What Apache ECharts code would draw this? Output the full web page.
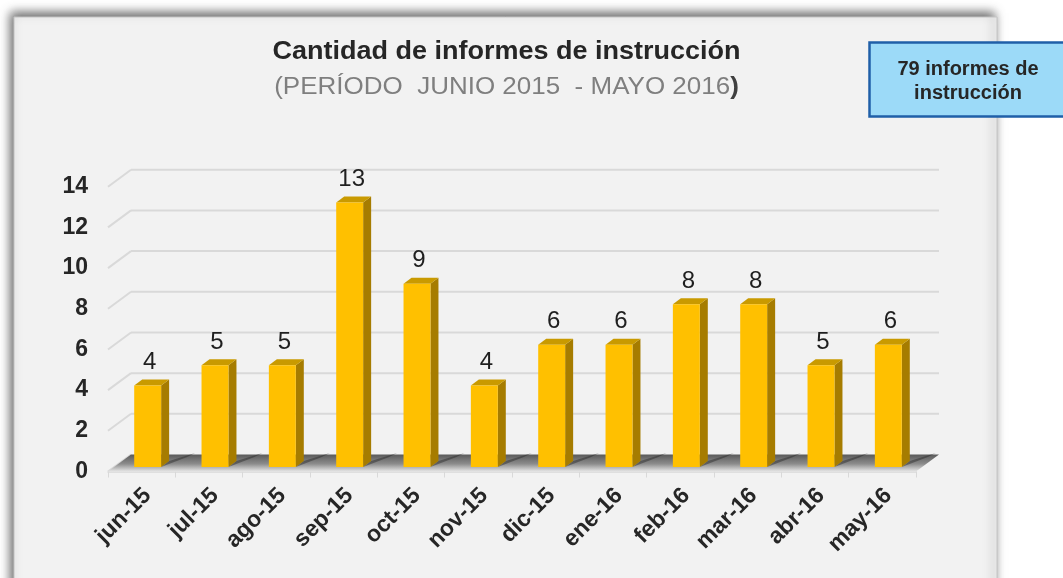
<!DOCTYPE html>
<html>
<head>
<meta charset="utf-8">
<script src="https://cdn.jsdelivr.net/npm/echarts@6/dist/echarts.min.js"></script>
<style>
html, body { margin: 0; padding: 0; background: #ffffff; }
#main { width: 1063px; height: 578px; }
</style>
</head>
<body>
<div id="main"></div>
<script>
// datos
var meses = ['jun-15', 'jul-15', 'ago-15', 'sep-15', 'oct-15', 'nov-15', 'dic-15', 'ene-16', 'feb-16', 'mar-16', 'abr-16', 'may-16'];
var informes = [4, 5, 5, 13, 9, 4, 6, 6, 8, 8, 5, 6];
var yTicks = [0, 2, 4, 6, 8, 10, 12, 14];
var totalTexto = ['79 informes de', 'instrucción'];

var FONT = '"Liberation Sans", Arial, sans-serif';
var DEPTH = [23, -17];   // desplazamiento de la pared del fondo

var myChart = echarts.init(document.getElementById('main'));

// pared del fondo: líneas de división y diagonales
function renderWall(params, api) {
	var cs = params.coordSys;
	var y = api.coord([0, api.value(1)])[1];
	var x0 = cs.x;
	var children = [{
		type: 'line',
		shape: { x1: x0, y1: y, x2: x0 + DEPTH[0], y2: y + DEPTH[1] },
		style: { stroke: '#d9d9d9', lineWidth: 2 }
	}];
	if (api.value(1) > 0) {
		children.push({
			type: 'line',
			shape: { x1: x0 + DEPTH[0], y1: y + DEPTH[1], x2: x0 + cs.width + DEPTH[0], y2: y + DEPTH[1] },
			style: { stroke: '#d9d9d9', lineWidth: 2 }
		});
	}
	return { type: 'group', children: children };
}

// suelo
function renderFloor(params, api) {
	var cs = params.coordSys;
	var yb = cs.y + cs.height;
	return {
		type: 'polygon',
		shape: { points: [[cs.x, yb], [cs.x + cs.width, yb], [cs.x + cs.width + DEPTH[0], yb + DEPTH[1]], [cs.x + DEPTH[0], yb + DEPTH[1]]] },
		style: {
			fill: new echarts.graphic.LinearGradient(0, 0, 0, 1, [
				{ offset: 0, color: '#5a5a5a' },
				{ offset: 0.55, color: '#8c8c8c' },
				{ offset: 1, color: '#e6e6e6' }
			])
		}
	};
}

// barras 3D
function renderBar(params, api) {
	var v = api.value(1);
	var top = api.coord([api.value(0), v]);
	var base = api.coord([api.value(0), 0]);
	var bw = api.size([1, 0])[0] * 0.4;
	var x0 = top[0] - bw / 2, x1 = top[0] + bw / 2;
	var dx = 8, dy = -6;
	return {
		type: 'group',
		children: [
			{ type: 'polygon', shape: { points: [[x1, base[1]], [x1 + 26, base[1] - 10], [x1 + 34, base[1] - 14], [x1 + dx, base[1] + dy]] },
				style: { fill: 'rgba(40,40,40,0.45)' } },
			{ type: 'polygon', shape: { points: [[x1, top[1]], [x1 + dx, top[1] + dy], [x1 + dx, base[1] + dy], [x1, base[1]]] },
				style: { fill: '#a67c00' } },
			{ type: 'polygon', shape: { points: [[x0, top[1]], [x0 + dx, top[1] + dy], [x1 + dx, top[1] + dy], [x1, top[1]]] },
				style: { fill: '#c99a00' } },
			{ type: 'rect', shape: { x: x0, y: top[1], width: bw, height: base[1] - top[1] },
				style: { fill: '#ffc000' } },
			{ type: 'text', x: top[0] + 2, y: top[1] - 11,
				style: { text: String(v), font: '24px ' + FONT, fill: '#1f1f1f', align: 'center', verticalAlign: 'bottom' } }
		]
	};
}

option = {
	backgroundColor: '#ffffff',
	animation: false,
	graphic: [
		{ type: 'rect', z: -10, shape: { x: 14, y: 17, width: 983, height: 620 },
			style: { fill: '#f2f2f2', stroke: '#c4c4c4', lineWidth: 1, shadowBlur: 10, shadowColor: 'rgba(0,0,0,0.6)', shadowOffsetX: -3, shadowOffsetY: -4 } },
		{ type: 'text', x: 506.5, y: 52.5, scaleX: 1.08, z: 10,
			style: { text: 'Cantidad de informes de instrucción', font: 'bold 25px ' + FONT, fill: '#262626', align: 'center', verticalAlign: 'middle' } },
		{ type: 'text', x: 506.5, y: 87.5, scaleX: 1.13, z: 10,
			style: { text: '{a|(PERÍODO  JUNIO 2015  - MAYO 2016}{b|)}', align: 'center', verticalAlign: 'middle',
				rich: { a: { font: '23px ' + FONT, fill: '#7f7f7f' }, b: { font: 'bold 23px ' + FONT, fill: '#404040' } } } },
		{ type: 'rect', z: 10, shape: { x: 869.5, y: 42.5, width: 220, height: 74 },
			style: { fill: '#9cdaf8', stroke: '#1f5fa8', lineWidth: 2.5 } },
		{ type: 'text', x: 968, y: 81, z: 11,
			style: { text: totalTexto.join('\n'), font: 'bold 20px ' + FONT, lineHeight: 24, fill: '#262626', align: 'center', verticalAlign: 'middle' } }
	],
	grid: [
		{ left: 108, right: 147, top: 186.7, bottom: 106.5 },
		{ left: 114, right: 141, top: 182.1, bottom: 111.1 }
	],
	xAxis: [
		{
			type: 'category', gridIndex: 0, data: meses,
			axisLine: { lineStyle: { color: '#d9d9d9', width: 1.5 } },
			axisTick: { show: true, length: 6, lineStyle: { color: '#d9d9d9' } },
			axisLabel: { show: false }
		},
		{
			type: 'category', gridIndex: 1, data: meses,
			axisLine: { show: false }, axisTick: { show: false },
			axisLabel: { rotate: 45, margin: 25, fontSize: 23, fontWeight: 'bold', color: '#262626', fontFamily: FONT, interval: 0 }
		}
	],
	yAxis: [
		{
			type: 'value', gridIndex: 0, min: 0, max: 14, interval: 2,
			axisLine: { show: false }, axisTick: { show: false }, splitLine: { show: false },
			axisLabel: { margin: 20, fontSize: 23, fontWeight: 'bold', color: '#262626', fontFamily: FONT }
		},
		{
			type: 'value', gridIndex: 1, min: 0, max: 14, interval: 2, show: false, splitLine: { show: false }
		}
	],
	series: [
		{ name: 'pared', type: 'custom', xAxisIndex: 0, yAxisIndex: 0, z: 1, silent: true,
			renderItem: renderWall, data: yTicks.map(function (t) { return [0, t]; }) },
		{ name: 'suelo', type: 'custom', xAxisIndex: 0, yAxisIndex: 0, z: 2, silent: true,
			renderItem: renderFloor, data: [[0, 0]] },
		{ name: 'Informes', type: 'custom', xAxisIndex: 1, yAxisIndex: 1, z: 3,
			renderItem: renderBar, data: informes.map(function (v, i) { return [i, v]; }) }
	]
};
myChart.setOption(option);
</script>
</body>
</html>
